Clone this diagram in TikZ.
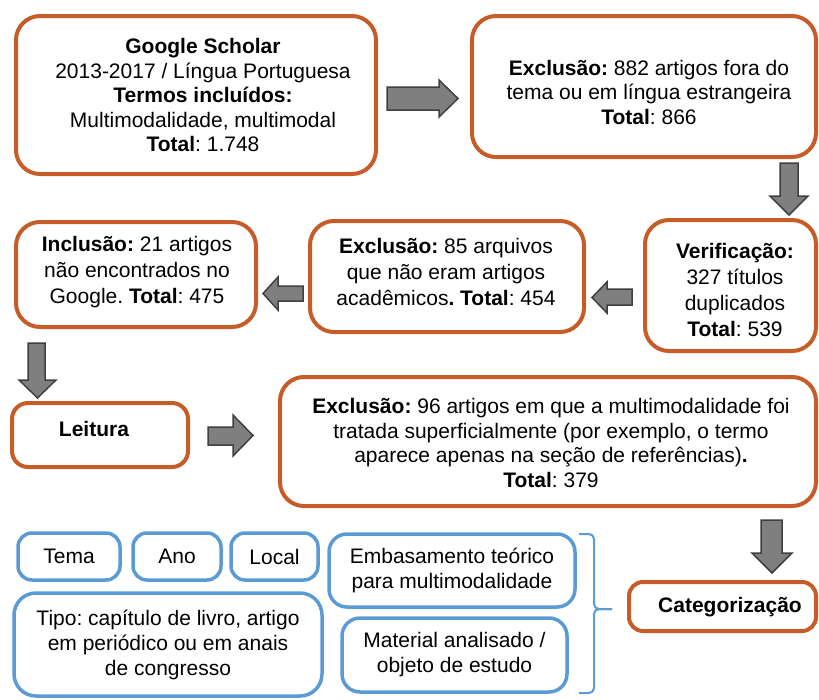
\documentclass[tikz,border=0pt]{standalone}
\usepackage{fontspec}
\setmainfont{Liberation Sans}
\definecolor{orangeC}{RGB}{198,92,40}
\definecolor{blueC}{RGB}{91,155,213}
\definecolor{grayA}{RGB}{127,127,127}
\definecolor{grayB}{RGB}{64,64,64}
\begin{document}
\frenchspacing
\begin{tikzpicture}[x=1pt,y=-1pt,
  obox/.style={draw=orangeC, line width=4pt, rounded corners=24pt},
  bbox/.style={draw=blueC, line width=3.5pt, rounded corners=14pt, align=center,
    font=\fontsize{21}{25}\selectfont, inner sep=0pt},
  txt/.style={align=center, font=\fontsize{21}{24.5}\selectfont, inner sep=0pt},
  barrow/.style={fill=grayA, draw=grayB, line width=1.5pt, line join=miter},
  bracel/.style={draw=blueC, line width=2pt, rounded corners=5pt}]
\useasboundingbox (0,0) rectangle (819,699);

% orange boxes
\node[obox, minimum width=360pt, minimum height=158pt] (gs) at (196,95) {};
\node[obox, minimum width=344pt, minimum height=141pt] (ex1) at (644,86.5) {};
\node[obox, minimum width=171pt, minimum height=131pt] (ver) at (730.5,285.5) {};
\node[obox, minimum width=274pt, minimum height=111pt] (ex2) at (447,276.5) {};
\node[obox, minimum width=240pt, minimum height=105pt] (inc) at (136,274.5) {};
\node[obox, minimum width=176pt, minimum height=64pt, rounded corners=16pt] (lei) at (100,435) {};
\node[obox, minimum width=536pt, minimum height=129pt] (ex3) at (548,441.5) {};
\node[obox, minimum width=187pt, minimum height=49pt, rounded corners=14pt] (cat) at (722.5,606.5) {};

% texts in orange boxes
\node[txt] (tgs) at (203,95) {\textbf{Google Scholar}\\2013-2017 / Língua Portuguesa\\\textbf{Termos incluídos:}\\Multimodalidade, multimodal\\\textbf{Total}: 1.748};
\node[txt] (tex1) at (649,92) {\textbf{Exclusão:} 882 artigos fora do\\tema ou em língua estrangeira\\\textbf{Total}: 866};
\node[txt, font=\fontsize{21}{26}\selectfont] (tver) at (735,290) {\textbf{Verificação:}\\327 títulos\\duplicados\\\textbf{Total}: 539};
\node[txt, font=\fontsize{21}{26}\selectfont] (tex2) at (446,272) {\textbf{Exclusão:} 85 arquivos\\que não eram artigos\\acadêmicos\textbf{. Total}: 454};
\node[txt, font=\fontsize{21}{26}\selectfont] (tinc) at (137,272) {\textbf{Inclusão:} 21 artigos\\não encontrados no\\Google. \textbf{Total}: 475};
\node[txt] (tlei) at (94,429) {\textbf{Leitura}};
\node[txt] (tex3) at (551,443) {\textbf{Exclusão:} 96 artigos em que a multimodalidade foi\\tratada superficialmente (por exemplo, o termo\\aparece apenas na seção de referências)\textbf{.}\\\textbf{Total}: 379};
\node[txt] (tcat) at (730,607) {\textbf{Categorização}};

% blue boxes
\node[bbox, minimum width=102pt, minimum height=47pt] (tema) at (69,556.5) {Tema};
\node[bbox, minimum width=88pt, minimum height=47pt] (ano) at (177,556.5) {Ano};
\node[bbox, minimum width=87pt, minimum height=47pt] (local) at (274.5,556.5) {Local};
\node[bbox, minimum width=308pt, minimum height=103pt, rounded corners=22pt] (tipo) at (168,644.5) {Tipo: capítulo de livro, artigo\\em periódico ou em anais\\de congresso};
\node[bbox, minimum width=246pt, minimum height=73pt, rounded corners=18pt] (emb) at (452,570.5) {Embasamento teórico\\para multimodalidade};
\node[bbox, minimum width=225pt, minimum height=74pt, rounded corners=18pt] (mat) at (454.5,655) {Material analisado /\\objeto de estudo};

% brace
\draw[bracel] (579,534) -- (594,534) -- (594,609) -- (612,609);
\draw[bracel] (612,609) -- (594,609) -- (594,693) -- (579,693);

% block arrows
\draw[barrow] (387,87) -- (439,87) -- (439,80) -- (458,98.5) -- (439,117) -- (439,110) -- (387,110) -- cycle;
\draw[barrow] (780,163) -- (798,163) -- (798,196) -- (808,196) -- (789,215) -- (770,196) -- (780,196) -- cycle;
\draw[barrow] (632,289) -- (607,289) -- (607,282) -- (592,297.5) -- (607,313) -- (607,305) -- (632,305) -- cycle;
\draw[barrow] (303,286) -- (278,286) -- (278,277) -- (263,293.5) -- (278,310) -- (278,301) -- (303,301) -- cycle;
\draw[barrow] (28,343) -- (45,343) -- (45,380) -- (56,380) -- (37.5,398) -- (19,380) -- (28,380) -- cycle;
\draw[barrow] (208,427) -- (233,427) -- (233,415) -- (253,435.5) -- (233,456) -- (233,445) -- (208,445) -- cycle;
\draw[barrow] (761,520) -- (782,520) -- (782,553) -- (792,553) -- (772,573) -- (752,553) -- (761,553) -- cycle;
\end{tikzpicture}
\end{document}
